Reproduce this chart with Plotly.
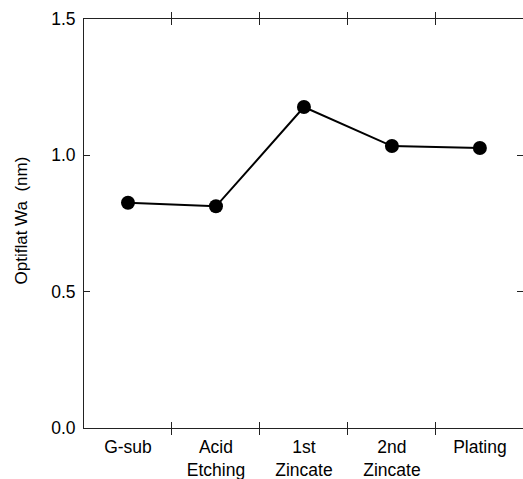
import plotly.graph_objects as go

categories = ["G-sub", "Acid<br>Etching", "1st<br>Zincate", "2nd<br>Zincate", "Plating"]
wa_values = [0.826, 0.813, 1.177, 1.034, 1.027]
y_ticks = [0.0, 0.5, 1.0, 1.5]
y_ticktext = ["0.0", "0.5", "1.0", "1.5"]

FONT = "Liberation Sans, Arial, sans-serif"

fig = go.Figure()
fig.add_trace(go.Scatter(
    x=categories, y=wa_values, mode="lines+markers",
    line=dict(color="black", width=2),
    marker=dict(color="black", size=14, symbol="circle"),
    showlegend=False,
))
# invisible trace for right-side ticks
fig.add_trace(go.Scatter(x=categories, y=wa_values, yaxis="y2", mode="lines",
                         line=dict(width=0), opacity=0, showlegend=False, hoverinfo="skip"))

fig.update_layout(
    width=523, height=479,
    margin=dict(l=84, r=0, t=19, b=51),
    paper_bgcolor="white", plot_bgcolor="white",
    font=dict(family=FONT, size=17, color="black"),
    xaxis=dict(
        type="category", range=[-0.5, 4.49], automargin=False,
        tickson="boundaries", ticks="inside", ticklen=6, tickwidth=1, tickcolor="#222",
        showline=True, linecolor="#222", linewidth=1, mirror="allticks",
        showgrid=False, zeroline=False,
        ticklabelstandoff=3,
        tickfont=dict(family=FONT, size=17.5, color="black"),
    ),
    yaxis=dict(
        range=[0, 1.5], tickvals=y_ticks, ticktext=y_ticktext, automargin=False,
        ticks="inside", ticklen=6, tickwidth=1, tickcolor="#222",
        showline=True, linecolor="#222", linewidth=1,
        showgrid=False, zeroline=False,
        ticklabelstandoff=4,
        tickfont=dict(family=FONT, size=17.5, color="black"),
    ),
    yaxis2=dict(
        range=[0, 1.5], tickvals=y_ticks, overlaying="y", side="right", automargin=False,
        ticks="inside", ticklen=6, tickwidth=1, tickcolor="#222",
        showticklabels=False, showline=False, showgrid=False, zeroline=False,
    ),
    annotations=[dict(
        text="Optiflat Wa  (nm)", textangle=-90, xref="paper", yref="paper",
        x=0, y=0.5, xanchor="center", yanchor="middle", xshift=-63, yshift=3,
        showarrow=False,
        font=dict(family=FONT, size=17, color="black"),
    )],
)

fig.write_html("out.html")
